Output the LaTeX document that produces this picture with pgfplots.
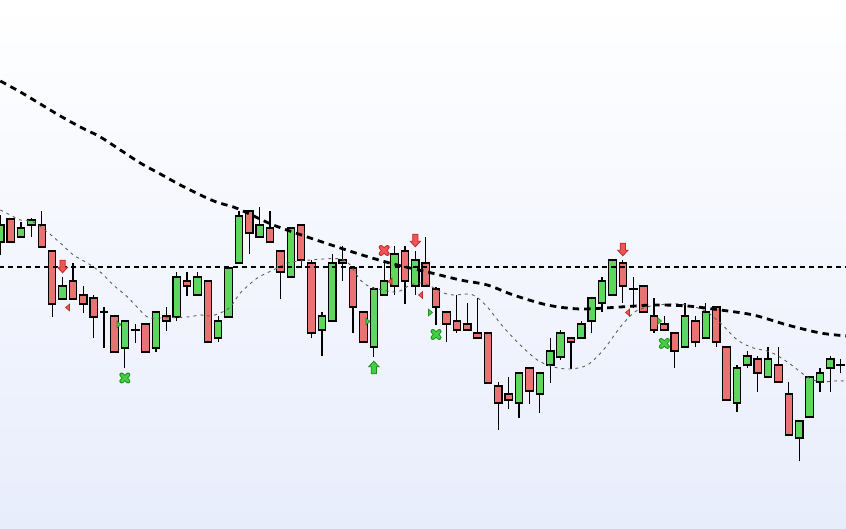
\documentclass[border=0pt]{standalone}
\usepackage{pgfplots}
\usepackage{pgfplotstable}
\pgfplotsset{compat=1.18}

\definecolor{bgtop}{RGB}{255,255,255}
\definecolor{bgbot}{RGB}{232,237,252}
\definecolor{upbody}{RGB}{95,215,95}
\definecolor{dnbody}{RGB}{233,115,115}
\definecolor{sigred}{RGB}{240,85,85}
\definecolor{sigredd}{RGB}{195,40,40}
\definecolor{siggrn}{RGB}{70,205,70}
\definecolor{siggrnd}{RGB}{25,145,25}
\definecolor{mashort}{RGB}{95,95,95}

% candles: i open high low close
\pgfplotstableread{
i o h l c
0 287 314 274 304
2 292 307 292 301
3 304 311 292 309
6 230 252 230 243
12 181 208 161 208
15 181 217 177 217
17 212 257 208 252
19 234 257 234 252
21 191 213 187 208
22 212 261 212 261
23 266 318 266 313
25 292 322 292 304
28 252 301 252 301
31 199 217 173 213
32 208 275 208 266
36 182 242 172 240
37 234 269 234 248
38 243 283 234 275
40 243 278 234 269
50 126 156 111 156
52 135 156 116 156
53 164 191 146 178
54 172 199 169 196
56 191 208 191 205
57 208 231 196 231
58 226 252 217 248
59 234 269 234 269
66 182 226 182 213
68 191 226 191 217
71 126 164 117 161
72 164 178 161 173
74 152 182 152 170
77 91 108 68 108
78 112 152 112 152
79 147 161 137 156
80 161 173 137 170
}\upc

\pgfplotstableread{
i o h l c
1 310 310 287 287
4 304 318 282 282
5 278 278 212 225
7 248 266 230 230
8 234 243 216 225
9 231 234 191 212
11 213 213 177 177
14 205 205 177 177
16 213 222 198 208
18 248 257 233 243
20 248 248 187 187
24 318 318 275 296
26 301 318 287 287
27 278 278 230 257
29 304 304 261 269
30 266 269 191 196
33 269 283 248 266
34 261 261 196 222
35 217 217 187 187
39 278 283 225 248
41 266 292 243 243
42 240 242 204 222
43 217 217 187 205
44 208 234 196 199
45 205 226 199 199
46 196 231 191 191
47 196 196 146 146
48 143 147 99 126
49 135 152 120 129
51 161 161 125 138
55 191 191 160 187
60 266 269 226 243
62 243 243 217 217
63 213 231 196 199
64 205 213 199 199
65 196 196 161 178
67 208 213 182 187
69 222 222 182 187
70 182 182 129 129
73 170 173 137 156
75 164 182 147 147
76 135 147 94 94
}\dnc

\pgfplotstableread{
i o h l c
10 217 222 181 217
13 199 205 186 199
61 240 252 221 240
81 164 170 156 164
}\doji

% slow moving average
\pgfplotstableread{
x y
0 448
1.93 437
3.86 425
5.78 413
7.71 402
9.64 392
11.57 379
13.49 366
15.42 355
17.35 344
19.28 334
20.82 327
22.46 322
23.61 317
26.31 304
29.59 292
32.77 281
35.18 273
37.88 265
41.16 257
44.34 249
46.94 244
49.45 234
52.72 224
55.9 220
59.76 222
62.94 224
66.22 223
69.4 219
72.58 214
75.86 204
79.04 196
81.6 193
}\maslow

% fast moving average
\pgfplotstableread{
x y
0 319
0.96 314
1.93 309
3.18 307
4.53 297
5.78 286
7.04 274
8.39 266
9.64 257
10.89 244
12.05 234
12.82 226
14.17 212
15.42 211
18.02 212
19.28 214
20.24 213
21.2 216
22.17 222
23.13 236
24.77 251
26.31 259
27.66 266
28.92 268
31.13 270
32.77 270
33.73 264
34.7 249
35.66 242
36.92 239
38.27 237
39.52 244
40.67 246
41.64 242
42.41 237
43.66 234
45.01 235
45.78 233
46.94 222
48.48 202
50.12 184
51.76 169
53.3 162
54.94 160
56.58 164
58.12 179
59.76 202
61.01 216
61.98 221
63.33 224
65.54 225
67.76 219
69.4 206
71.04 189
72.58 181
74.22 177
75.86 167
77.78 152
79.04 147
80.29 148
81.6 148
}\mafast

\pgfdeclareplotmark{dnarrow}{%
  \pgfpathmoveto{\pgfqpoint{-2.6pt}{6.3pt}}%
  \pgfpathlineto{\pgfqpoint{2.6pt}{6.3pt}}%
  \pgfpathlineto{\pgfqpoint{2.6pt}{-0.8pt}}%
  \pgfpathlineto{\pgfqpoint{5.1pt}{-0.8pt}}%
  \pgfpathlineto{\pgfqpoint{0pt}{-6.3pt}}%
  \pgfpathlineto{\pgfqpoint{-5.1pt}{-0.8pt}}%
  \pgfpathlineto{\pgfqpoint{-2.6pt}{-0.8pt}}%
  \pgfpathclose
  \pgfusepathqfillstroke}
\pgfdeclareplotmark{uparrow}{%
  \pgfpathmoveto{\pgfqpoint{-2.6pt}{-6.3pt}}%
  \pgfpathlineto{\pgfqpoint{2.6pt}{-6.3pt}}%
  \pgfpathlineto{\pgfqpoint{2.6pt}{0.8pt}}%
  \pgfpathlineto{\pgfqpoint{5.1pt}{0.8pt}}%
  \pgfpathlineto{\pgfqpoint{0pt}{6.3pt}}%
  \pgfpathlineto{\pgfqpoint{-5.1pt}{0.8pt}}%
  \pgfpathlineto{\pgfqpoint{-2.6pt}{0.8pt}}%
  \pgfpathclose
  \pgfusepathqfillstroke}
\pgfdeclareplotmark{ltri}{%
  \pgfpathmoveto{\pgfqpoint{-2pt}{0pt}}%
  \pgfpathlineto{\pgfqpoint{2pt}{3.4pt}}%
  \pgfpathlineto{\pgfqpoint{2pt}{-3.4pt}}%
  \pgfpathclose
  \pgfusepathqfillstroke}
\pgfdeclareplotmark{rtri}{%
  \pgfpathmoveto{\pgfqpoint{2pt}{0pt}}%
  \pgfpathlineto{\pgfqpoint{-2pt}{3.4pt}}%
  \pgfpathlineto{\pgfqpoint{-2pt}{-3.4pt}}%
  \pgfpathclose
  \pgfusepathqfillstroke}
\newcommand\crossmark[3]{%
  \pgfdeclareplotmark{#1}{%
    \pgfsetroundcap
    \pgfsetstrokecolor{#2}\pgfsetlinewidth{4.6pt}%
    \pgfpathmoveto{\pgfqpoint{-3.2pt}{-3.2pt}}\pgfpathlineto{\pgfqpoint{3.2pt}{3.2pt}}%
    \pgfpathmoveto{\pgfqpoint{-3.2pt}{3.2pt}}\pgfpathlineto{\pgfqpoint{3.2pt}{-3.2pt}}%
    \pgfusepathqstroke
    \pgfsetstrokecolor{#3}\pgfsetlinewidth{2.8pt}%
    \pgfpathmoveto{\pgfqpoint{-3.2pt}{-3.2pt}}\pgfpathlineto{\pgfqpoint{3.2pt}{3.2pt}}%
    \pgfpathmoveto{\pgfqpoint{-3.2pt}{3.2pt}}\pgfpathlineto{\pgfqpoint{3.2pt}{-3.2pt}}%
    \pgfusepathqstroke}}
\crossmark{xred}{sigredd}{sigred}
\crossmark{xgrn}{siggrnd}{siggrn}

\pgfplotsset{chart/.style={
  scale only axis, width=846pt, height=529pt,
  xmin=-0.03, xmax=81.51, ymin=0, ymax=529,
  hide axis, clip=true, at={(0,0)}, anchor=south west}}
\pgfplotsset{wick/.style={draw=none, mark=none,
  error bars/.cd, y dir=plus, y explicit, error mark=none,
  error bar style={draw=black, line width=1.2pt}}}

\begin{document}
\begin{tikzpicture}
\useasboundingbox (0,0) rectangle (846pt,529pt);
\shade[top color=bgtop, bottom color=bgbot] (0,0) rectangle (846pt,529pt);

% wicks
\begin{axis}[chart]
  \addplot[wick] table[x=i, y=l, y error plus expr=\thisrow{h}-\thisrow{l}] {\upc};
  \addplot[wick] table[x=i, y=l, y error plus expr=\thisrow{h}-\thisrow{l}] {\dnc};
  \addplot[draw=none, mark=none,
    error bars/.cd, x dir=both, x fixed=0.42, y dir=both, y explicit, error mark=none,
    error bar style={draw=black, line width=1.2pt}]
    table[x=i, y=o, y error plus expr=\thisrow{h}-\thisrow{o},
          y error minus expr=\thisrow{o}-\thisrow{l}] {\doji};
\end{axis}

% rising bodies
\begin{axis}[chart, ybar stacked, bar width=7.4pt]
  \addplot[draw=none, fill=none] table[x=i, y=o] {\upc};
  \addplot[draw=black, line width=1.2pt, fill=upbody] table[x=i, y expr=\thisrow{c}-\thisrow{o}] {\upc};
\end{axis}

% falling bodies
\begin{axis}[chart, ybar stacked, bar width=7.4pt]
  \addplot[draw=none, fill=none] table[x=i, y=c] {\dnc};
  \addplot[draw=black, line width=1.2pt, fill=dnbody] table[x=i, y expr=\thisrow{o}-\thisrow{c}] {\dnc};
\end{axis}

% averages, level, signals
\begin{axis}[chart]
  \addplot[mashort, line width=0.9pt, dash pattern=on 3pt off 4pt, smooth] table {\mafast};
  \addplot[black, line width=2.2pt, dash pattern=on 5.5pt off 3.5pt] coordinates {(-1,262.3) (83,262.3)};
  \addplot[black, line width=2.8pt, dash pattern=on 6.5pt off 5pt, smooth] table {\maslow};

  \addplot[only marks, mark=dnarrow, mark options={fill=sigred, draw=sigredd, line width=0.8pt}]
    coordinates {(6,262.5) (40,288.5) (60,279.5)};
  \addplot[only marks, mark=uparrow, mark options={fill=siggrn, draw=siggrnd, line width=0.8pt}]
    coordinates {(36,161.5)};
  \addplot[only marks, mark=ltri, mark options={fill=sigred, draw=sigredd, line width=0.6pt}]
    coordinates {(6.48,221.5) (37.56,247.5) (40.5,234) (60.45,216.5)};
  \addplot[only marks, mark=rtri, mark options={fill=siggrn, draw=siggrnd, line width=0.6pt}]
    coordinates {(11.44,204.5) (35.44,207.5) (41.46,216.5) (63.54,208)};
  \addplot[only marks, mark=xred] coordinates {(37,278.5)};
  \addplot[only marks, mark=xgrn] coordinates {(12,151) (42,194.5) (64,185.5)};
\end{axis}
\end{tikzpicture}
\end{document}
